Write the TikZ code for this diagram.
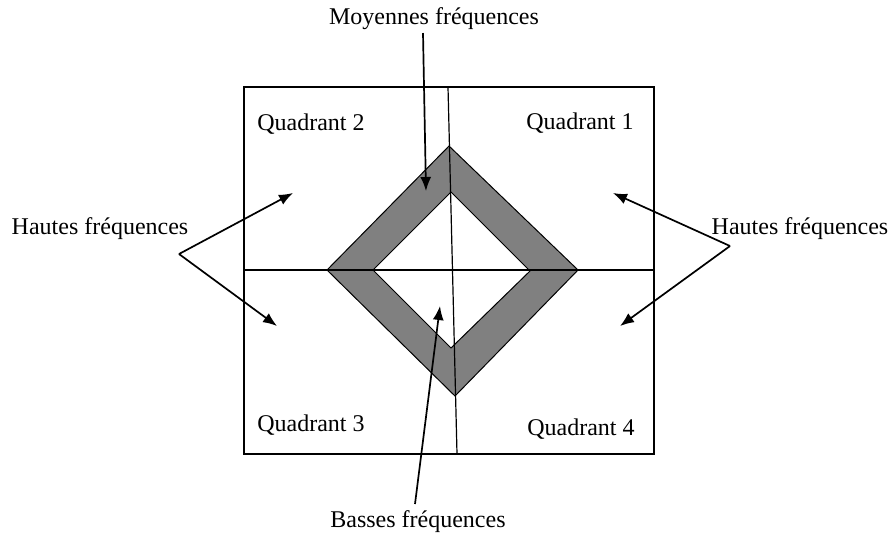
\documentclass[tikz,border=0pt]{standalone}
\usepackage{fontspec}
\setmainfont{Liberation Serif}
\usetikzlibrary{positioning,calc,arrows.meta}
\definecolor{BandGray}{RGB}{128,128,128}
\tikzset{
  axis/.style={draw=black,line width=0.6pt},
  band/.style={fill=BandGray,draw=black,line width=0.5pt,even odd rule},
  lbl/.style={inner sep=0pt,font=\fontsize{12}{14}\selectfont},
  ptr/.style={draw=black,line width=0.85pt,-{Latex[length=7pt,width=5.5pt]}},
}

\begin{document}
\begin{tikzpicture}[x=0.5pt,y=-0.5pt]
\useasboundingbox (0,0) rectangle (894,538);
% diamond band
\coordinate (ol) at (327,270);
\coordinate (ot) at (449,146);
\coordinate (or) at (578,270);
\coordinate (ob) at (455,396);
\coordinate (il) at (373,270);
\coordinate (it) at (451,192);
\coordinate (ir) at (530,271);
\coordinate (ib) at (451,348);
\draw[band] (ol) -- (ot) -- (or) -- (ob) -- cycle
            (il) -- (it) -- (ir) -- (ib) -- cycle;
% frame and axes
\coordinate (nw) at (244,87);
\coordinate (se) at (654,454);
\coordinate (vtop) at (448,87);
\coordinate (vbot) at (457,454);
\coordinate (hl) at (244,270);
\coordinate (hr) at (654,270);
\draw[axis] (nw) rectangle (se);
\draw[axis] (vtop) -- (vbot);
\draw[axis] (hl) -- (hr);
% quadrants
\node[lbl] (q2) at (311,124) {Quadrant 2};
\node[lbl] (q1) at (580,123) {Quadrant 1};
\node[lbl] (q3) at (311,425) {Quadrant 3};
\node[lbl] (q4) at (581,429) {Quadrant 4};
% labels
\node[lbl] (moy) at (434,19) {Moyennes fréquences};
\node[lbl] (bas) at (418,522) {Basses fréquences};
\node[lbl] (hgl) at (100,229) {Hautes fréquences};
\node[lbl] (hdr) at (800,229) {Hautes fréquences};
% arrows
\coordinate (mtail) at (423,33);
\coordinate (mtip) at (426,191);
\coordinate (btail) at (415,504);
\coordinate (btip) at (440,306);
\draw[ptr] (mtail) -- (mtip);
\draw[ptr] (btail) -- (btip);
\coordinate (gv) at (179,254);
\coordinate (g1) at (293,193);
\coordinate (g2) at (277,326);
\draw[ptr] (gv) -- (g1);
\draw[ptr] (gv) -- (g2);
\coordinate (dv) at (730,246);
\coordinate (d1) at (613,193);
\coordinate (d2) at (620,326);
\draw[ptr] (dv) -- (d1);
\draw[ptr] (dv) -- (d2);
\end{tikzpicture}
\end{document}
